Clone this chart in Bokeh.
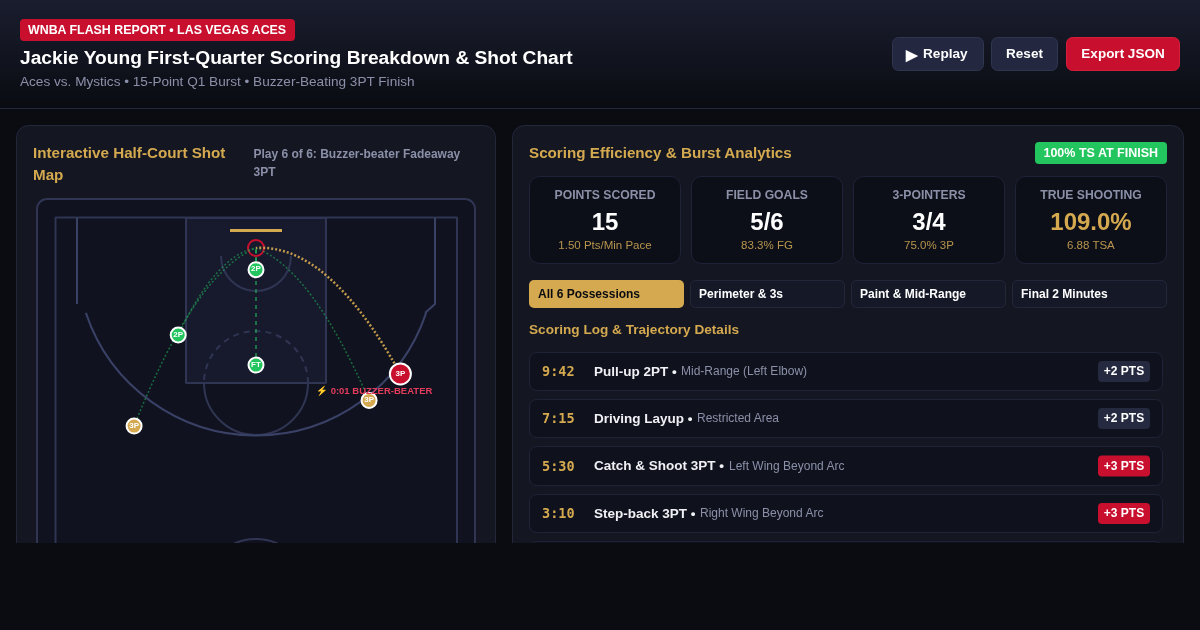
from bokeh.core.properties import value
from bokeh.embed import file_html
from bokeh.models import Range1d
from bokeh.plotting import figure
from bokeh.resources import INLINE

# report texts
badge_text = "WNBA FLASH REPORT • LAS VEGAS ACES"
title_text = "Jackie Young First-Quarter Scoring Breakdown & Shot Chart"
subtitle_text = "Aces vs. Mystics • 15-Point Q1 Burst • Buzzer-Beating 3PT Finish"

# stat cards
stat_labels = ["POINTS SCORED", "FIELD GOALS", "3-POINTERS", "TRUE SHOOTING"]
stat_values = ["15", "5/6", "3/4", "109.0%"]
stat_notes = ["1.50 Pts/Min Pace", "83.3% FG", "75.0% 3P", "6.88 TSA"]

tab_labels = ["All 6 Possessions", "Perimeter & 3s", "Paint & Mid-Range", "Final 2 Minutes"]

# scoring log
log_times = ["9:42", "7:15", "5:30", "3:10"]
log_plays = ["Pull-up 2PT", "Driving Layup", "Catch & Shoot 3PT", "Step-back 3PT"]
log_zones = ["Mid-Range (Left Elbow)", "Restricted Area", "Left Wing Beyond Arc", "Right Wing Beyond Arc"]
log_points = [2, 2, 3, 3]

# shots, in feet from the basket (x across the court, y out from the baseline)
shot_x = [-9.7, 0.0, 0.0, -15.2, 14.1, 18.0]
shot_y = [10.85, 2.7, 14.6, 22.2, 19.0, 15.7]
shot_labels = ["2P", "2P", "FT", "3P", "3P", "3P"]
# bend of each shot's flight path, None for the straight ones
bend_x = [-4.9, None, None, -7.6, 7.0, 9.0]
bend_y = [0.8, None, None, 3.1, 2.7, -0.6]

BODY = "#0a0c12"
PANEL = "#141722"
EDGE = "#23273a"
GOLD = "#d4a94f"
RED = "#c8102e"
GREEN = "#22c55e"
GREY = "#8b90a8"
COURT = "#2f3552"
FONT = "Liberation Sans"
FEET = 8.02  # court scale, px per foot
RIM_X, RIM_Y = 256, 248

# one px bigger than the window, svg output sits half a px off the grid
p = figure(width=1201, height=631, x_range=(-0.5, 1200.5), y_range=(630.5, -0.5),
           x_axis_type=None, y_axis_type=None, toolbar_location=None,
           output_backend="svg", min_border=0, outline_line_color=None,
           background_fill_color=BODY, border_fill_color=BODY,
           stylesheets=[":host{position:fixed;left:-1px;top:-1px}"])
p.grid.visible = False
p.extra_x_ranges["court"] = Range1d((-0.5 - RIM_X) / FEET, (1200.5 - RIM_X) / FEET)
p.extra_y_ranges["court"] = Range1d((630.5 - RIM_Y) / FEET, (-0.5 - RIM_Y) / FEET)


def box(left, top, right, bottom, fill, line=None, radius=0, width=1):
    p.quad(left=left, right=right, top=top, bottom=bottom, fill_color=fill,
           line_color=line, line_width=width, border_radius=radius)


def label(x, y, text, size, color, bold=True, align="left", font=FONT):
    p.text(x=[x], y=[y], text=[text], text_color=color, text_font=value(font),
           text_font_size=f"{size}px", text_font_style="bold" if bold else "normal",
           text_align=align, text_baseline="middle")


# header
rows = list(range(108))
shades = []
for r in rows:
    t = r / 107
    shades.append("#%02x%02x%02x" % (round(26 - 16 * t), round(29 - 17 * t), round(46 - 28 * t)))
p.quad(left=-1, right=1201, top=rows, bottom=[r + 1 for r in rows], fill_color=shades, line_color=None)
box(-1, 108, 1201, 109, EDGE)

box(20, 19, 295, 41, RED, radius=4)
label(28, 29.5, badge_text, 12.4, "#ffffff")
label(20, 57, title_text, 19.2, "#ffffff")
label(20, 81.5, subtitle_text, 13.6, GREY, bold=False)

box(892.5, 37.5, 983.5, 70.5, "#232840", "#2f3650", 6)
box(991.5, 37.5, 1057.5, 70.5, "#232840", "#2f3650", 6)
box(1066.5, 37.5, 1179.5, 70.5, RED, "#d41f3c", 6)
label(906, 54.5, "▶", 15, "#ffffff")
label(923, 53.5, "Replay", 13.6, "#ffffff")
label(1024.5, 53.5, "Reset", 13.5, "#ffffff", align="center")
label(1123, 53.5, "Export JSON", 13.5, "#ffffff", align="center")

# panels
box(16.5, 125.5, 495.5, 640, PANEL, EDGE, 12)
box(512.5, 125.5, 1183.5, 640, PANEL, EDGE, 12)

label(33, 152, "Interactive Half-Court Shot", 15.2, GOLD)
label(33, 174.5, "Map", 15.2, GOLD)
label(253.5, 154, "Play 6 of 6: Buzzer-beater Fadeaway", 12, GREY)
label(253.5, 172, "3PT", 12, GREY)

# court
box(37, 199, 475, 640, "#10131f", COURT, 10, 2)
box(186, 218, 326, 383, "#171a2d", COURT, 0, 2)
p.line([55.5, 55.5, 457, 457], [640, 217.5, 217.5, 640], line_color=COURT, line_width=2)
box(230, 229, 282, 232, GOLD)
p.arc(x=256, y=256, radius=35, start_angle=180, end_angle=360, start_angle_units="deg",
      end_angle_units="deg", direction="anticlock", line_color=COURT, line_width=2)
p.arc(x=256, y=383, radius=52, start_angle=0, end_angle=180, start_angle_units="deg",
      end_angle_units="deg", direction="anticlock", line_color=COURT, line_width=2, line_dash="6 5")
p.arc(x=256, y=383, radius=52, start_angle=180, end_angle=360, start_angle_units="deg",
      end_angle_units="deg", direction="anticlock", line_color=COURT, line_width=2)
p.arc(x=256, y=591, radius=52, start_angle=0, end_angle=180, start_angle_units="deg",
      end_angle_units="deg", direction="anticlock", line_color=COURT, line_width=2)
three = "#3a4166"
p.line([77, 77], [218, 304], line_color=three, line_width=2)
p.line([435, 435, 425], [218, 304, 313], line_color=three, line_width=2)
p.arc(x=256, y=256, radius=179.4, start_angle=-161.5, end_angle=-18.5, start_angle_units="deg",
      end_angle_units="deg", direction="anticlock", line_color=three, line_width=2)
p.circle(x=RIM_X, y=RIM_Y, radius=8, fill_color=None, line_color=RED, line_width=2)

# flight paths
court = dict(x_range_name="court", y_range_name="court")
for i in range(len(shot_x)):
    last = i == len(shot_x) - 1
    color = GOLD if last else GREEN
    if bend_x[i] is None:
        p.segment(x0=shot_x[i], y0=shot_y[i], x1=0, y1=0, line_color=color, line_alpha=0.5,
                  line_width=2, line_dash="4 4", **court)
    else:
        p.quadratic(x0=shot_x[i], y0=shot_y[i], x1=0, y1=0, cx=bend_x[i], cy=bend_y[i],
                    line_color=color, line_alpha=0.9 if last else 0.5,
                    line_width=2.5 if last else 1.5, line_dash="2 2", **court)

# shot markers
for i in range(len(shot_x)):
    last = i == len(shot_x) - 1
    color = RED if last else (GOLD if shot_labels[i] == "3P" else GREEN)
    p.scatter(x=[shot_x[i]], y=[shot_y[i]], size=21 if last else 15, fill_color=color,
              line_color="#ffffff", line_width=2, **court)
    p.text(x=[shot_x[i]], y=[shot_y[i] - 0.1], text=[shot_labels[i]], text_color="#ffffff",
           text_font=value(FONT), text_font_size="8px", text_font_style="bold",
           text_align="center", text_baseline="middle", **court)
label(316, 390.5, "⚡ 0:01 BUZZER-BEATER", 9.5, "#e63c5c")

# right panel
label(529, 152.5, "Scoring Efficiency & Burst Analytics", 15.2, GOLD)
box(1035, 142, 1167, 164, GREEN, None, 4)
label(1101, 152.5, "100% TS AT FINISH", 12.5, "#ffffff", align="center")

for i in range(4):
    left = 529.5 + 162 * i
    box(left, 176.5, left + 151, 263.5, "#0c0f18", "#1f2338", 10)
    mid = left + 75.5
    label(mid, 195, stat_labels[i], 12.2, GREY, align="center")
    label(mid, 221, stat_values[i], 24, GOLD if i == 3 else "#ffffff", align="center")
    label(mid, 245, stat_notes[i], 11.5, "#b8954d", bold=False, align="center")

tab_left = [529, 690.5, 851.5, 1012.5]
for i in range(4):
    active = i == 0
    box(tab_left[i], 280 if active else 280.5, tab_left[i] + (155 if active else 154),
        308 if active else 307.5, GOLD if active else "#151827", None if active else EDGE, 5)
    label(tab_left[i] + (9 if active else 8.5), 294, tab_labels[i], 12, "#0a0c12" if active else "#ffffff")

label(529, 329.5, "Scoring Log & Trajectory Details", 13.6, GOLD)

row_top = [352.5, 399.5, 446.5, 494.5, 541.5]
row_bottom = [390.5, 437.5, 485.5, 532.5, 580]
zone_x = [681, 697, 729, 700]
for top, bottom in zip(row_top, row_bottom):
    box(529.5, top, 1162.5, bottom, "#0f121d", "#1f2338", 7)
for i in range(4):
    mid = (row_top[i] + row_bottom[i]) / 2
    label(542, mid - 0.5, log_times[i], 13.5, GOLD, font="DejaVu Sans Mono")
    label(594, mid - 0.5, log_plays[i] + " •", 13.5, "#f0f0f5")
    label(zone_x[i], mid - 0.5, log_zones[i], 12, GREY, bold=False)
    box(1098, mid - 10.5, 1150, mid + 10.5, RED if log_points[i] == 3 else "#252a40", None, 4)
    label(1124, mid - 0.5, f"+{log_points[i]} PTS", 12, "#ffffff", align="center")

# the page stops here
box(-1, 543, 1201, 631, BODY)

open("out.html", "w").write(file_html(p, INLINE))
